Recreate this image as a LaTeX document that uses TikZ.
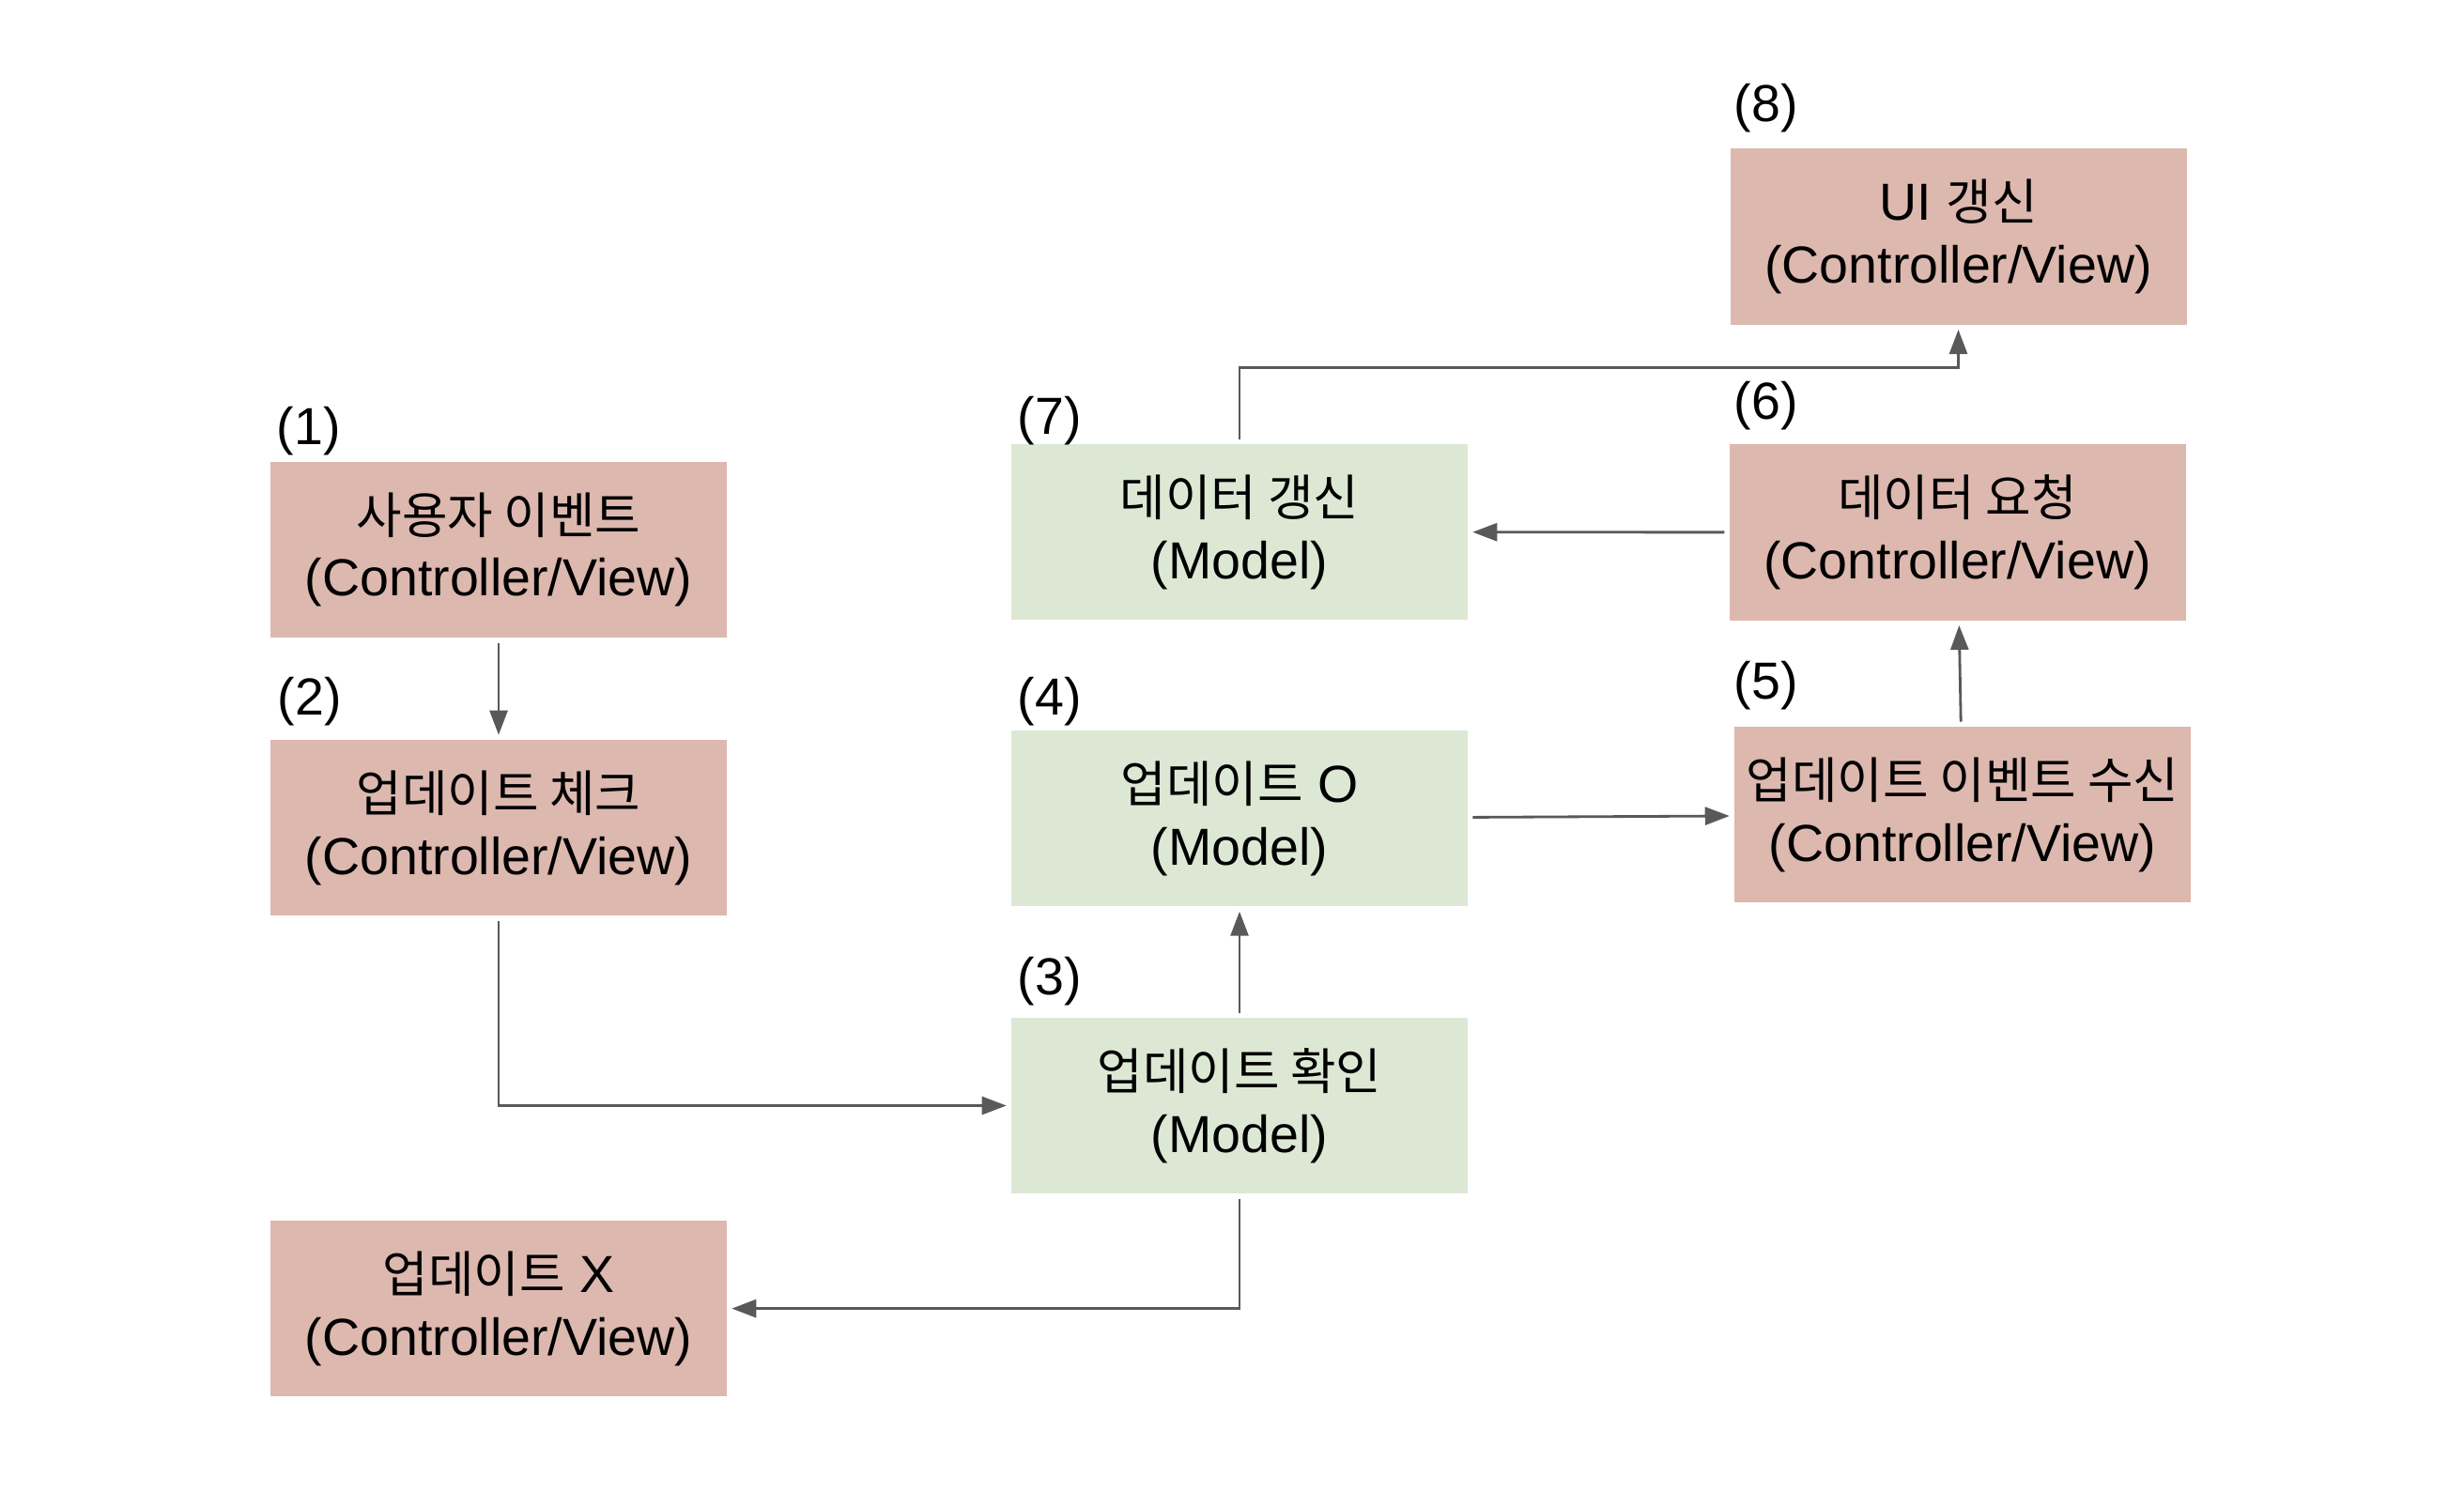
\documentclass[tikz,border=0pt]{standalone}
\usepackage{fontspec}
\setmainfont{Liberation Sans}
\newfontfamily\kr[Scale=0.95]{Noto Sans CJK KR}
\usetikzlibrary{arrows.meta}
\usepackage{xcolor}
\definecolor{viewred}{HTML}{DDB8AF}
\definecolor{modelgreen}{HTML}{DCE8D4}
\definecolor{linegray}{HTML}{595959}

\begin{document}
\begin{tikzpicture}[
		font=\fontsize{15.8}{19}\selectfont,
		box/.style={minimum width=4.86cm, minimum height=1.875cm, inner sep=0pt, outer sep=1.5pt, align=center},
		view/.style={box, fill=viewred},
		model/.style={box, fill=modelgreen},
		num/.style={anchor=south west, inner sep=0pt},
		flow/.style={-{Triangle[length=0.26cm, width=0.19cm]}, draw=linegray, line width=0.8pt}
	]
			\useasboundingbox (0,0) rectangle (26.24,-16.04);
			
			% Controller/View
			\node[view] (event) at (5.31,-5.855) {{\kr 사용자 이벤트}\\(Controller/View)};
			\node[view] (check) at (5.31,-8.817) {{\kr 업데이트 체크}\\(Controller/View)};
			\node[view] (nox) at (5.31,-13.936) {{\kr 업데이트} X\\(Controller/View)};
			\node[view] (recv) at (20.90,-8.677) {{\kr 업데이트 이벤트 수신}\\(Controller/View)};
			\node[view] (req) at (20.845,-5.67) {{\kr 데이터 요청}\\(Controller/View)};
			\node[view] (ui) at (20.855,-2.52) {UI {\kr 갱신}\\(Controller/View)};
			
			% Model
			\node[model] (confirm) at (13.20,-11.775) {{\kr 업데이트 확인}\\(Model)};
			\node[model] (yes) at (13.20,-8.717) {{\kr 업데이트} O\\(Model)};
			\node[model] (refresh) at (13.20,-5.666) {{\kr 데이터 갱신}\\(Model)};
			
			% step numbers
			\node[num] (n1) at (2.94,-4.86) {(1)};
			\node[num] (n2) at (2.95,-7.74) {(2)};
			\node[num] (n3) at (10.83,-10.72) {(3)};
			\node[num] (n4) at (10.83,-7.74) {(4)};
			\node[num] (n5) at (18.46,-7.57) {(5)};
			\node[num] (n6) at (18.46,-4.585) {(6)};
			\node[num] (n7) at (10.83,-4.75) {(7)};
			\node[num] (n8) at (18.46,-1.415) {(8)};
			
			\coordinate (top) at (15,-3.915);
			
			\draw[flow] (event) -- (check);
			\draw[flow] (check.south) |- (confirm.west);
			\draw[flow] (confirm.south) |- (nox.east);
			\draw[flow] (confirm) -- (yes);
			\draw[flow] (yes) -- (recv);
			\draw[flow] (recv) -- (req);
			\draw[flow] (req) -- (refresh);
			\draw[flow] (refresh.north) -- (refresh.north |- top) -| (ui.south);
			
		\end{tikzpicture}
\end{document}
